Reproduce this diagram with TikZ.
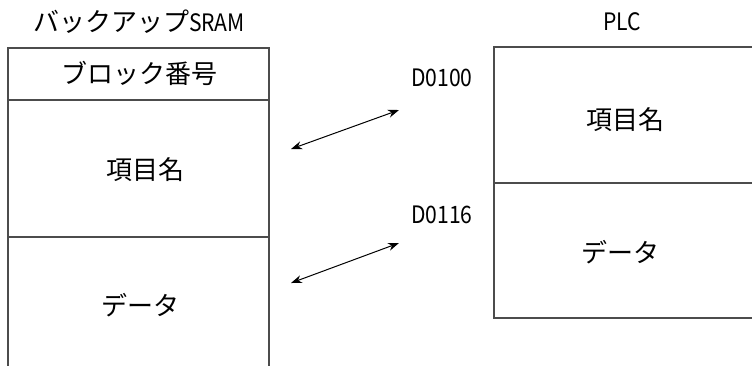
\documentclass[tikz,border=0pt]{standalone}
\usepackage{fontspec}
\setmainfont{Noto Sans CJK JP}
\newfontfamily\latn[FakeStretch=0.88]{Noto Sans CJK JP}
\usetikzlibrary{arrows.meta}
\tikzset{
  boxline/.style={draw=black!70, line width=1.3pt},
  lbl/.style={inner sep=0pt, font=\fontsize{26}{28}\selectfont, text=black},
  addr/.style={inner sep=0pt, font=\latn\fontsize{24}{26}\selectfont, text=black},
  link/.style={line width=1pt, {Stealth[length=11pt,width=8pt]}-{Stealth[length=11pt,width=8pt]}}
}
\begin{document}
\begin{tikzpicture}[x=1pt,y=1pt]
\useasboundingbox (0,0) rectangle (752,-365);
\clip (0,0) rectangle (752,-365);
% left box (SRAM)
\draw[boxline] (8,-370) -- (8,-48) -- (269,-48) -- (269,-370);
\draw[boxline] (8,-100) -- (269,-100);
\draw[boxline] (8,-237) -- (269,-237);
% right box (PLC)
\draw[boxline] (760,-47) -- (494,-47) -- (494,-318) -- (760,-318);
\draw[boxline] (494,-183) -- (760,-183);
% titles
\node[lbl] (tsram) at (139,-22) {バックアップ{\latn\fontsize{24}{26}\selectfont SRAM}};
\node[addr] (tplc) at (622,-22) {PLC};
% left texts
\node[lbl] (lblock) at (139,-73) {ブロック番号};
\node[lbl] (litem) at (145,-170) {項目名};
\node[lbl] (ldata) at (140,-305) {データ};
% right texts
\node[lbl] (ritem) at (625,-120) {項目名};
\node[lbl] (rdata) at (620,-252) {データ};
% addresses
\node[addr] (a1) at (442,-78) {D0100};
\node[addr] (a2) at (442,-215) {D0116};
% arrows
\coordinate (s1) at (291,-149);
\coordinate (e1) at (399,-110);
\coordinate (s2) at (291,-283);
\coordinate (e2) at (399,-243);
\draw[link] (s1) -- (e1);
\draw[link] (s2) -- (e2);
\end{tikzpicture}
\end{document}
